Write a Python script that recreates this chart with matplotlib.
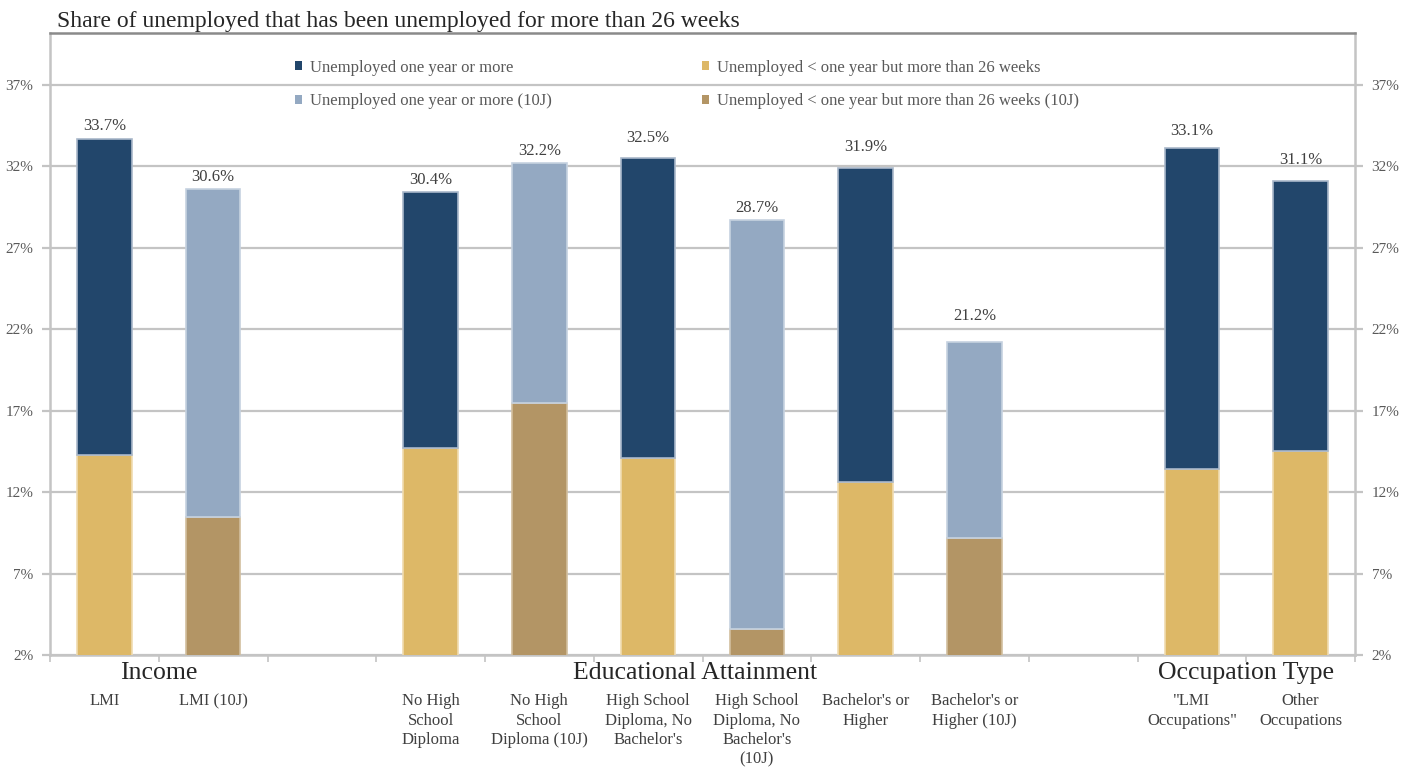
import numpy as np
import matplotlib
matplotlib.use("Agg")
import matplotlib.pyplot as plt
from matplotlib.patches import Patch

plt.rcParams["font.family"] = ["Liberation Serif", "DejaVu Serif"]

# ---- data -------------------------------------------------------------
categories = [
    "LMI", "LMI (10J)", "",
    "No High\nSchool\nDiploma", "No High\nSchool\nDiploma (10J)",
    "High School\nDiploma, No\nBachelor's", "High School\nDiploma, No\nBachelor's\n(10J)",
    "Bachelor's or\nHigher", "Bachelor's or\nHigher (10J)", "",
    "\"LMI\nOccupations\"", "Other\nOccupations",
]
# total share unemployed > 26 weeks (%), nan = empty slot
totals = [33.7, 30.6, np.nan, 30.4, 32.2, 32.5, 28.7, 31.9, 21.2, np.nan, 33.1, 31.1]
# share unemployed < one year but more than 26 weeks (%)
mid_term = [14.3, 10.5, np.nan, 14.7, 17.5, 14.1, 3.6, 12.6, 9.2, np.nan, 13.4, 14.5]
# which bars belong to the 10J comparison
is_10j = [False, True, False, False, True, False, True, False, True, False, False, False]

groups = ["Income", "Educational Attainment", "Occupation Type"]
group_members = [(0, 1), (3, 8), (10, 11)]

y_ticks = [2, 7, 12, 17, 22, 27, 32, 37]

series_names = [
    "Unemployed one year or more",
    "Unemployed < one year but more than 26 weeks",
    "Unemployed one year or more (10J)",
    "Unemployed < one year but more than 26 weeks (10J)",
]

# ---- styling ----------------------------------------------------------
NAVY, NAVY_EDGE = "#22466b", "#a9b8ca"
GOLD, GOLD_EDGE = "#ddb867", "#f0dcb0"
LBLUE, LBLUE_EDGE = "#94a9c2", "#c6d2e0"
TAN, TAN_EDGE = "#b39565", "#d2bf9e"
GRID = "#c4c4c4"
TXT = "#404040"
# vertical gap (points) between each bar top and its value label
label_gap = [3, 3, 0, 3, 3, 9, 3, 9, 13, 0, 7, 9]

W, H = 1416, 767
fig = plt.figure(figsize=(W / 100, H / 100), dpi=100)
ax = fig.add_axes([50 / W, (767 - 655) / H, (1355 - 50) / W, (655 - 33) / H])

x = np.arange(len(categories))
tot = np.array(totals, dtype=float)
mid = np.array(mid_term, dtype=float)
top = tot - mid
flag = np.array(is_10j)
bw = 0.5

for i in range(len(categories)):
    if np.isnan(tot[i]):
        continue
    if flag[i]:
        c_lo, e_lo, c_hi, e_hi = TAN, TAN_EDGE, LBLUE, LBLUE_EDGE
    else:
        c_lo, e_lo, c_hi, e_hi = GOLD, GOLD_EDGE, NAVY, NAVY_EDGE
    ax.bar(x[i], mid[i], width=bw, color=c_lo, edgecolor=e_lo, linewidth=1.2, zorder=3)
    ax.bar(x[i], top[i], bottom=mid[i], width=bw, color=c_hi, edgecolor=e_hi,
           linewidth=1.2, zorder=3)
    ax.annotate(f"{tot[i]:.1f}%", (x[i], tot[i]), xytext=(0, label_gap[i]),
                textcoords="offset points", ha="center", va="bottom",
                fontsize=12, color=TXT)

ax.set_xlim(-0.5, len(categories) - 0.5)
ax.set_ylim(2, 2 + (655 - 33) / 16.29)
ax.set_yticks(y_ticks)
ax.set_yticklabels([f"{v}%" for v in y_ticks])
ax.yaxis.grid(True, color=GRID, linewidth=1.6, zorder=0)
ax.set_axisbelow(True)

# category boundary ticks along the bottom
ax.set_xticks(np.arange(-0.5, len(categories) + 0.5, 1.0))
ax.set_xticklabels([])
ax.tick_params(axis="x", length=5, width=1.2, color=GRID, direction="out")
ax.tick_params(axis="y", length=6, width=1.6, color=GRID, labelsize=11,
               labelcolor="#595959", pad=6)

for s in ["left", "right", "bottom"]:
    ax.spines[s].set_color(GRID)
    ax.spines[s].set_linewidth(1.8)
ax.spines["top"].set_color("#8a8a8a")
ax.spines["top"].set_linewidth(1.8)

# mirrored axis on the right
ax2 = ax.twinx()
ax2.set_ylim(ax.get_ylim())
ax2.set_yticks(y_ticks)
ax2.set_yticklabels([f"{v}%" for v in y_ticks])
ax2.tick_params(axis="y", length=6, width=1.6, color=GRID, labelsize=11,
                labelcolor="#595959", pad=6)
for s in ax2.spines.values():
    s.set_visible(False)

# category labels
for i, lab in enumerate(categories):
    if lab:
        ax.text(x[i], -0.061, lab, transform=ax.get_xaxis_transform(),
                ha="center", va="top", fontsize=12, color=TXT, linespacing=1.3)

# group labels
for g, (a, b) in zip(groups, group_members):
    ax.text((a + b) / 2 - (0.07 if a == 3 else 0), -0.029, g,
            transform=ax.get_xaxis_transform(),
            ha="center", va="center", fontsize=18.5, color="#262626")

# legend
handles = [Patch(facecolor=NAVY), Patch(facecolor=LBLUE),
           Patch(facecolor=GOLD), Patch(facecolor=TAN)]
labels = [series_names[0], series_names[2], series_names[1], series_names[3]]
leg = ax.legend(handles, labels, ncol=2, loc="upper left",
                bbox_to_anchor=((288 - 50) / (1355 - 50), 1 - (53 - 33) / (655 - 33)),
                frameon=False, fontsize=12, handlelength=0.45, handleheight=0.45,
                handletextpad=0.45, columnspacing=9.0, labelspacing=1.05,
                borderaxespad=0)
for t in leg.get_texts():
    t.set_color("#595959")

fig.text(57 / W, 1 - 21 / H, "Share of unemployed that has been unemployed for more than 26 weeks",
         ha="left", va="center", fontsize=17, color="#262626")

fig.savefig("out.png", dpi=100)
